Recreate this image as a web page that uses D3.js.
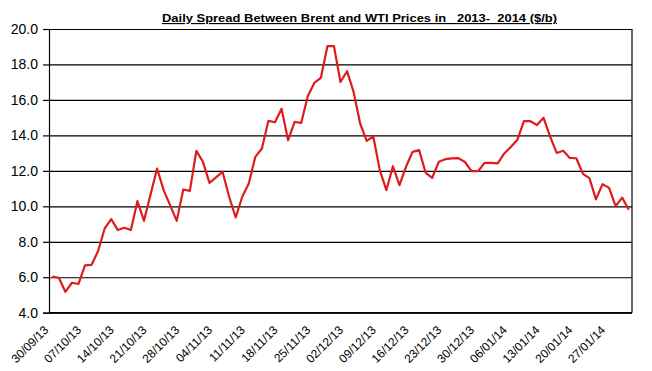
<!DOCTYPE html>
<html>
<head>
<meta charset="utf-8">
<script src="https://cdn.jsdelivr.net/npm/d3@7"></script>
<style>
  body { margin: 0; background: #fff; }
  svg { display: block; font-family: Arial, "Liberation Sans", sans-serif; }
</style>
</head>
<body>
<div id="chart"></div>
<script>
// Brent - WTI daily spread, $/b, one value per trading day from 30/09/13
const spread = [
  6.03, 5.97, 5.18, 5.69, 5.62, 6.67, 6.70, 7.48, 8.75, 9.28,
  8.66, 8.79, 8.66, 10.29, 9.18, 10.66, 12.13, 10.91, 10.05, 9.18,
  10.95, 10.87, 13.13, 12.51, 11.32, 11.63, 11.94, 10.54, 9.37, 10.54,
  11.29, 12.79, 13.26, 14.82, 14.74, 15.50, 13.73, 14.76, 14.70, 16.21,
  16.96, 17.24, 19.03, 19.03, 17.01, 17.62, 16.45, 14.67, 13.69, 13.95,
  12.04, 10.91, 12.26, 11.19, 12.23, 13.07, 13.17, 11.89, 11.61, 12.51,
  12.66, 12.70, 12.72, 12.50, 11.99, 11.98, 12.45, 12.45, 12.42, 12.98,
  13.35, 13.75, 14.80, 14.80, 14.58, 14.99, 13.93, 13.01, 13.13, 12.73,
  12.71, 11.83, 11.59, 10.39, 11.25, 11.04, 10.01, 10.49, 9.81
];

// labels shown on every 5th category (each Monday)
const etiquetasX = [
  "30/09/13", "07/10/13", "14/10/13", "21/10/13", "28/10/13", "04/11/13",
  "11/11/13", "18/11/13", "25/11/13", "02/12/13", "09/12/13", "16/12/13",
  "23/12/13", "30/12/13", "06/01/14", "13/01/14", "20/01/14", "27/01/14"
];

const ticksY = [4, 6, 8, 10, 12, 14, 16, 18, 20];
const titulo = "Daily Spread Between Brent and WTI Prices in   2013-  2014 ($/b)";

const width = 652;
const height = 371;
const mIzq = 49, mDer = 632, mSup = 29, mInf = 312.7;

const svg = d3.select("#chart").append("svg")
    .attr("width", width)
    .attr("height", height);

svg.append("rect").attr("width", width).attr("height", height).attr("fill", "#fff");

const x = d3.scaleBand()
    .domain(d3.range(spread.length))
    .range([mIzq, mDer])
    .padding(0);

const y = d3.scaleLinear()
    .domain([4, 20])
    .range([mInf, mSup]);

const cx = i => x(i) + x.bandwidth() / 2;

// grid lines
svg.append("g")
    .attr("transform", `translate(${mIzq},0)`)
    .call(d3.axisLeft(y).tickValues(ticksY).tickSize(-(mDer - mIzq)).tickFormat(""))
    .call(g => g.select(".domain").remove())
    .call(g => g.selectAll("line").attr("stroke", "#000").attr("stroke-width", 1.2));

// right border of the plot area
svg.append("line")
    .attr("x1", mDer).attr("x2", mDer)
    .attr("y1", y(20)).attr("y2", y(4))
    .attr("stroke", "#000").attr("stroke-width", 1.2);

// y axis
svg.append("g")
    .attr("transform", `translate(${mIzq},0)`)
    .call(d3.axisLeft(y).tickValues(ticksY).tickSize(6).tickPadding(5).tickFormat(d3.format(".1f")))
    .call(g => g.select(".domain").attr("stroke", "#000").attr("stroke-width", 1.2))
    .call(g => g.selectAll("line").attr("stroke", "#000").attr("stroke-width", 1.2))
    .call(g => g.selectAll("text")
        .attr("font-size", "14px")
        .attr("font-family", "Arial, 'Liberation Sans', sans-serif")
        .attr("fill", "#000"));

// bottom axis line
svg.append("line")
    .attr("x1", mIzq).attr("x2", mDer)
    .attr("y1", mInf).attr("y2", mInf)
    .attr("stroke", "#000").attr("stroke-width", 1.5);

// x labels, rotated
svg.append("g").selectAll("text")
    .data(etiquetasX)
    .enter().append("text")
    .attr("transform", (d, i) => `translate(${cx(i * 5) - 3},${mInf + 18}) rotate(-45)`)
    .attr("text-anchor", "end")
    .attr("font-size", "12px")
    .attr("fill", "#000")
    .text(d => d);

// the series
const linea = d3.line()
    .x((d, i) => cx(i))
    .y(d => y(d));

svg.append("path")
    .datum(spread)
    .attr("fill", "none")
    .attr("stroke", "#dd1c1c")
    .attr("stroke-width", 2.2)
    .attr("stroke-linejoin", "round")
    .attr("d", linea);

// title
svg.append("text")
    .attr("x", 162)
    .attr("y", 22)
    .attr("font-size", "11.5px")
    .attr("font-weight", "bold")
    .attr("text-decoration", "underline")
    .attr("textLength", 395)
    .attr("lengthAdjust", "spacingAndGlyphs")
    .attr("fill", "#000")
    .style("white-space", "pre")
    .text(titulo);
</script>
</body>
</html>
